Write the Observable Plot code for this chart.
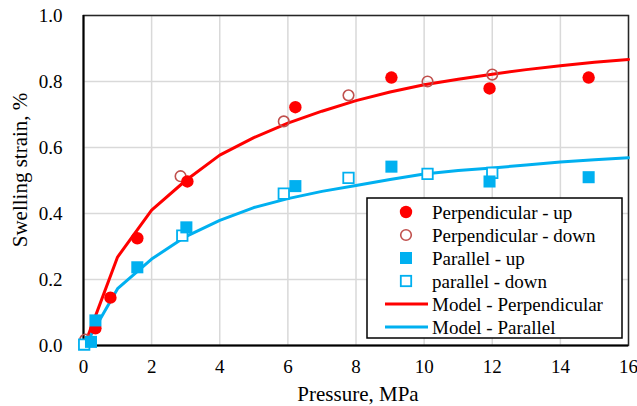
<!DOCTYPE html>
<html>
<head>
<meta charset="utf-8">
<script src="https://cdn.jsdelivr.net/npm/d3@7"></script>
<script src="https://cdn.jsdelivr.net/npm/@observablehq/plot@0.6"></script>
<style>
  html, body { margin: 0; padding: 0; background: #fff; }
  #chart { position: relative; width: 637px; height: 406px; }
</style>
</head>
<body>
<div id="chart"></div>
<script>
// ---- data ----
const perpUpPressure = [0.35, 0.79, 1.58, 3.05, 6.22, 9.04, 11.92, 14.83];
const perpUpStrain   = [0.052, 0.145, 0.325, 0.497, 0.722, 0.812, 0.779, 0.812];

const perpDownPressure = [0.05, 2.85, 5.88, 7.78, 10.1, 12.0];
const perpDownStrain   = [0.018, 0.513, 0.679, 0.758, 0.80, 0.821];

const parUpPressure = [0.22, 0.35, 1.58, 3.02, 6.22, 9.04, 11.92, 14.83];
const parUpStrain   = [0.011, 0.076, 0.237, 0.358, 0.483, 0.542, 0.497, 0.51];

const parDownPressure = [0.02, 2.9, 5.88, 7.78, 10.1, 12.0];
const parDownStrain   = [0.003, 0.333, 0.46, 0.508, 0.52, 0.523];

const modelPressure = [0.1, 1, 2, 3, 4, 5, 6, 7, 8, 9, 10, 11, 12, 13, 14, 15, 16];
const modelPerp = [0.02, 0.268, 0.41, 0.50, 0.577, 0.63, 0.674, 0.71, 0.742, 0.768, 0.79, 0.807, 0.822, 0.836, 0.848, 0.858, 0.867];
const modelPar  = [0.01, 0.172, 0.262, 0.33, 0.379, 0.418, 0.445, 0.467, 0.485, 0.503, 0.52, 0.53, 0.538, 0.547, 0.556, 0.563, 0.569];

const xTicks = [0, 2, 4, 6, 8, 10, 12, 14, 16];
const yTicks = [0, 0.2, 0.4, 0.6, 0.8, 1.0];

const legendLabels = ["Perpendicular - up", "Perpendicular - down", "Parallel - up", "parallel - down", "Model - Perpendicular", "Model - Parallel"];
const xTitle = "Pressure, MPa";
const yTitle = "Swelling strain, %";

// ---- build tables ----
const zip = (xs, ys) => xs.map((x, i) => ({x, y: ys[i]}));
const perpUp = zip(perpUpPressure, perpUpStrain);
const perpDown = zip(perpDownPressure, perpDownStrain);
const parUp = zip(parUpPressure, parUpStrain);
const parDown = zip(parDownPressure, parDownStrain);
const mPerp = zip(modelPressure, modelPerp);
const mPar = zip(modelPressure, modelPar);

const RED = "#ff0000", BROWN = "#c0504d", BLUE = "#00b0f0";
const FONT = "'Liberation Serif', 'Times New Roman', serif";

const svg = Plot.plot({
  width: 637,
  height: 406,
  marginLeft: 83,
  marginRight: 9,
  marginTop: 15,
  marginBottom: 61,
  style: {fontFamily: FONT, fontSize: "19px", color: "#000", background: "#fff"},
  x: {domain: [0, 16]},
  y: {domain: [0, 1]},
  marks: [
    Plot.gridX(xTicks, {stroke: "#d9d9d9", strokeOpacity: 1, strokeWidth: 1.5}),
    Plot.gridY(yTicks, {stroke: "#d9d9d9", strokeOpacity: 1, strokeWidth: 1.5}),
    Plot.frame({stroke: "#262626", strokeWidth: 1.5}),
    Plot.ruleX([0], {stroke: "#000", strokeWidth: 2}),
    Plot.ruleY([0], {stroke: "#000", strokeWidth: 2}),
    Plot.axisX(xTicks, {tickSize: 0, tickPadding: 14, fontSize: 19, fontFamily: FONT, label: null}),
    Plot.axisY(yTicks, {tickSize: 0, tickPadding: 21, fontSize: 19, fontFamily: FONT, label: null, tickFormat: d3.format(".1f")}),
    Plot.line(mPerp, {x: "x", y: "y", stroke: RED, strokeWidth: 3}),
    Plot.line(mPar, {x: "x", y: "y", stroke: BLUE, strokeWidth: 3}),
    Plot.dot(perpDown, {x: "x", y: "y", r: 5.3, stroke: BROWN, strokeWidth: 1.6, fill: "none"}),
    Plot.dot(parDown, {x: "x", y: "y", symbol: "square", r: 5.9, stroke: BLUE, strokeWidth: 1.8, fill: "#fff"}),
    Plot.dot(perpUp, {x: "x", y: "y", r: 6.2, fill: RED, stroke: "none"}),
    Plot.dot(parUp, {x: "x", y: "y", symbol: "square", r: 6.8, fill: BLUE, stroke: "none"})
  ]
});

// ---- titles & legend ----
const s = d3.select(svg);
s.append("text")
  .attr("x", 358).attr("y", 401)
  .attr("text-anchor", "middle")
  .attr("font-family", FONT).style("font-family", FONT).style("font-size", "21px").attr("fill", "#000")
  .text(xTitle);
s.append("text")
  .attr("transform", "translate(27,170) rotate(-90)")
  .attr("text-anchor", "middle")
  .attr("font-family", FONT).style("font-family", FONT).style("font-size", "21px").attr("fill", "#000")
  .text(yTitle);

const lg = s.append("g");
lg.append("rect").attr("x", 367).attr("y", 198).attr("width", 255).attr("height", 140)
  .attr("fill", "#fff").attr("stroke", "#000").attr("stroke-width", 1.5);
const rowY = i => 212 + i * 23;
const mx = 406;
// symbols
lg.append("circle").attr("cx", mx).attr("cy", rowY(0)).attr("r", 6.2).attr("fill", RED);
lg.append("circle").attr("cx", mx).attr("cy", rowY(1)).attr("r", 5.3).attr("fill", "none").attr("stroke", BROWN).attr("stroke-width", 1.6);
lg.append("rect").attr("x", mx - 6).attr("y", rowY(2) - 6).attr("width", 12).attr("height", 12).attr("fill", BLUE);
lg.append("rect").attr("x", mx - 5.2).attr("y", rowY(3) - 5.2).attr("width", 10.4).attr("height", 10.4).attr("fill", "none").attr("stroke", BLUE).attr("stroke-width", 1.8);
lg.append("line").attr("x1", 385).attr("x2", 428).attr("y1", rowY(4)).attr("y2", rowY(4)).attr("stroke", RED).attr("stroke-width", 3);
lg.append("line").attr("x1", 385).attr("x2", 428).attr("y1", rowY(5)).attr("y2", rowY(5)).attr("stroke", BLUE).attr("stroke-width", 3);
legendLabels.forEach((t, i) => {
  lg.append("text").attr("x", 432).attr("y", rowY(i)).attr("dy", "0.35em")
    .attr("text-anchor", "start")
    .attr("font-family", FONT).style("font-family", FONT).style("font-size", "19px").attr("fill", "#000")
    .text(t);
});

document.getElementById("chart").appendChild(svg);
</script>
</body>
</html>
